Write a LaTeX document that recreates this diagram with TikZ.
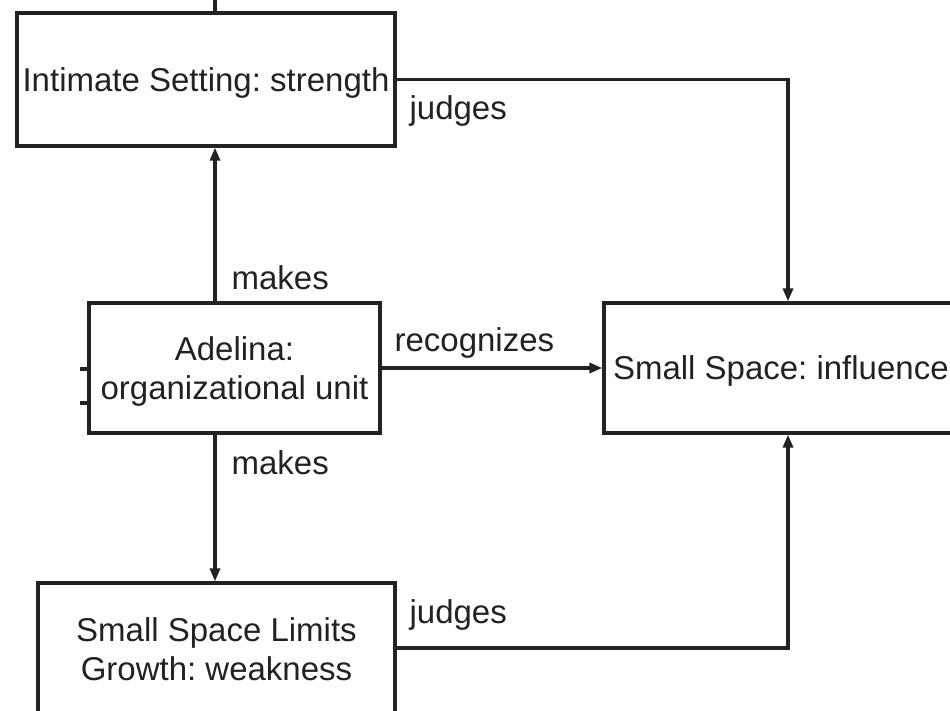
\documentclass[tikz,border=0pt]{standalone}
\usepackage{fontspec}
\setmainfont{Liberation Sans}
\usetikzlibrary{arrows.meta}
\definecolor{ink}{RGB}{34,34,34}
\frenchspacing
\begin{document}
\begin{tikzpicture}[x=1pt,y=-1pt, line width=3.2pt, ink, font=\fontsize{33}{39}\selectfont,
  box/.style={draw=ink, rectangle, inner sep=0pt},
  boxtext/.style={inner sep=0pt, align=center, text=ink},
  lbl/.style={inner sep=0pt, anchor=west, text=ink},
  arr/.style={-{Triangle[length=13pt,width=10pt]}}]
\useasboundingbox (0,0) rectangle (950,710);
\clip (0,0) rectangle (950,710);
\node[box, minimum width=378pt, minimum height=133pt] (intim) at (206,79.5) {};
\node[box, minimum width=291pt, minimum height=130pt] (adel) at (234.5,368) {};
\node[box, minimum width=396pt, minimum height=130pt] (small) at (802,368) {};
\node[box, minimum width=357pt, minimum height=130pt] (limits) at (216.5,648) {};
\node[boxtext] (tintim) at ([yshift=-3pt]intim.center) {Intimate Setting: strength};
\node[boxtext] (tadel) at ([yshift=-3pt]adel.center) {Adelina:\\organizational unit};
\node[boxtext, anchor=west] (tsmall) at ([xshift=9pt,yshift=-3pt]small.west) {Small Space: influence};
\node[boxtext] (tlimits) at ([yshift=-1pt]limits.center) {Small Space Limits\\Growth: weakness};
\coordinate (jx) at (788,0);
\coordinate (s1) at (80,369);
\coordinate (s2) at (80,403);
\draw[arr] ([xshift=-19.5pt]adel.north) -- ([xshift=-19.5pt]adel.north |- intim.south);
\draw ([xshift=-19.5pt]adel.north |- intim.north) -- ++(0,-16);
\draw[arr] ([xshift=-19.5pt]adel.south) -- ([xshift=-19.5pt]adel.south |- limits.north);
\draw[arr] (adel.east) -- (small.west);
\draw[arr] (intim.east) -| (jx |- small.north);
\draw[arr] (limits.east) -| (jx |- small.south);
\draw (s1) -- (s1 -| adel.west);
\draw (s2) -- (s2 -| adel.west);
\node[lbl] (mk1) at (230,278) {makes};
\node[lbl] (mk2) at (230,463) {makes};
\node[lbl] (rec) at (393,343) {recognizes};
\node[lbl] (jd1) at (408,111) {judges};
\node[lbl] (jd2) at (408,615) {judges};
\end{tikzpicture}
\end{document}
